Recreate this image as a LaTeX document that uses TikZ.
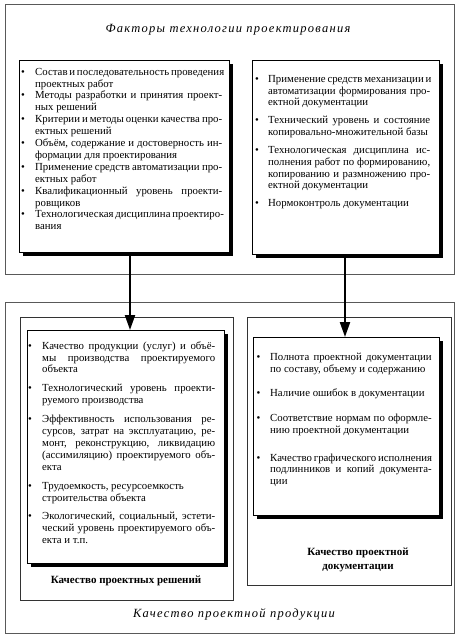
\documentclass[tikz,border=0pt]{standalone}
\usepackage{fontspec}
\setmainfont{Liberation Serif}
\usetikzlibrary{arrows.meta,shadows}
\newlength\bhang
\newcommand\itm[2][0pt]{\par\vskip#1\relax\noindent\hangindent=\bhang\hangafter=1\makebox[\bhang][l]{\textbullet}#2\par}
\tolerance=10000
\tikzset{
  frame/.style={draw=black!65, line width=0.7pt},
  midframe/.style={draw=black!80, line width=0.7pt},
  shbox/.style={draw=black, line width=1pt, fill=white, anchor=north west, inner sep=0pt,
    drop shadow={shadow xshift=3pt, shadow yshift=-3pt, fill=black, opacity=1}},
  listtext/.style={anchor=north west, inner sep=0pt, align=justify,
    font=\fontsize{10.8}{11.9}\selectfont},
  ititle/.style={font=\fontsize{12.5}{14}\selectfont\itshape\addfontfeatures{LetterSpace=10}},
  blabel/.style={font=\fontsize{11}{14}\selectfont\bfseries, align=center},
  arr/.style={line width=2.2pt, -{Triangle[length=15pt, width=10pt]}},
}
\begin{document}
\begin{tikzpicture}[x=1pt, y=-1pt]
\useasboundingbox (0,0) rectangle (461,638);
\fill[white] (0,0) rectangle (461,638);
% outer frames
\node[frame, anchor=north west, minimum width=449pt, minimum height=270pt, inner sep=0pt] (topframe) at (5,4) {};
\node[frame, anchor=north west, minimum width=449pt, minimum height=331pt, inner sep=0pt] (botframe) at (5,302) {};
\node[midframe, anchor=north west, minimum width=213pt, minimum height=283pt, inner sep=0pt] (midleft) at (20,317) {};
\node[midframe, anchor=north west, minimum width=204pt, minimum height=268pt, inner sep=0pt] (midright) at (247,317) {};
% titles
\node[ititle] (ttop) at (228,30) {Факторы технологии проектирования};
\node[ititle] (tbot) at (234,614) {Качество проектной продукции};
% boxes
\node[shbox, minimum width=210pt, minimum height=192pt] (tl) at (19,60) {};
\node[shbox, minimum width=187pt, minimum height=194pt] (tr) at (252,60) {};
\node[shbox, minimum width=197pt, minimum height=233pt] (bl) at (27,330) {};
\node[shbox, minimum width=186pt, minimum height=178pt] (br) at (253,337) {};
% texts
\node[listtext, text width=201pt] (tltext) at (21,63) {\setlength\bhang{14pt}%
\itm{Состав~и~последовательность~проведения\linebreak проектных работ}%
\itm{Методы разработки и принятия проект-\linebreak ных решений}%
\itm{Критерии и методы оценки качества про-\linebreak ектных решений}%
\itm{Объём, содержание и достоверность ин-\linebreak формации для проектирования}%
\itm{Применение средств автоматизации про-\linebreak ектных работ}%
\itm{Квалификационный уровень проекти-\linebreak ровщиков}%
\itm{Технологическая~дисциплина~\mbox{проектиро-}\linebreak вания}};
\node[listtext, text width=175pt] (trtext) at (255,70) {\setlength\bhang{13pt}%
\itm{Применение~средств~механизации~и\linebreak автоматизации формирования про-\linebreak ектной документации}%
\itm[5.8pt]{Технический уровень и состояние\linebreak копировально-множительной базы}%
\itm[5.8pt]{Технологическая~дисциплина~\mbox{ис-}\linebreak полнения~работ~по~формированию,\linebreak копированию и размножению про-\linebreak ектной документации}%
\itm[5.8pt]{Нормоконтроль документации}};
\node[listtext, text width=187pt] (bltext) at (28,337) {\setlength\bhang{14pt}%
\itm{Качество продукции (услуг) и объё-\linebreak мы производства проектируемого\linebreak объекта}%
\itm[7pt]{Технологический уровень проекти-\linebreak руемого производства}%
\itm[7pt]{Эффективность использования ре-\linebreak сурсов, затрат на эксплуатацию, ре-\linebreak монт, реконструкцию, ликвидацию\linebreak (ассимиляцию) проектируемого объ-\linebreak екта}%
\itm[7pt]{Трудоемкость, ресурсоемкость\newline строительства объекта}%
\itm[7pt]{Экологический, социальный, эстети-\linebreak ческий уровень проектируемого объ-\linebreak екта и т.п.}};
\node[listtext, text width=175pt] (brtext) at (256.5,348) {\setlength\bhang{13.5pt}%
\itm{Полнота проектной документации\linebreak по составу, объему и содержанию}%
\itm[12.7pt]{Наличие ошибок в документации}%
\itm[12.7pt]{Соответствие нормам по оформле-\linebreak нию проектной документации}%
\itm[16pt]{Качество~графического~исполнения\linebreak подлинников и копий документа-\linebreak ции}};
% labels
\node[blabel] (lbl1) at (126,581) {Качество проектных решений};
\node[blabel] (lbl2) at (358,560) {Качество проектной\\документации};
% arrows
\coordinate (a1) at (130,0);
\coordinate (a2) at (345,0);
\draw[arr] (tl.south -| a1) -- (bl.north -| a1);
\draw[arr] (tr.south -| a2) -- (br.north -| a2);
\end{tikzpicture}
\end{document}
